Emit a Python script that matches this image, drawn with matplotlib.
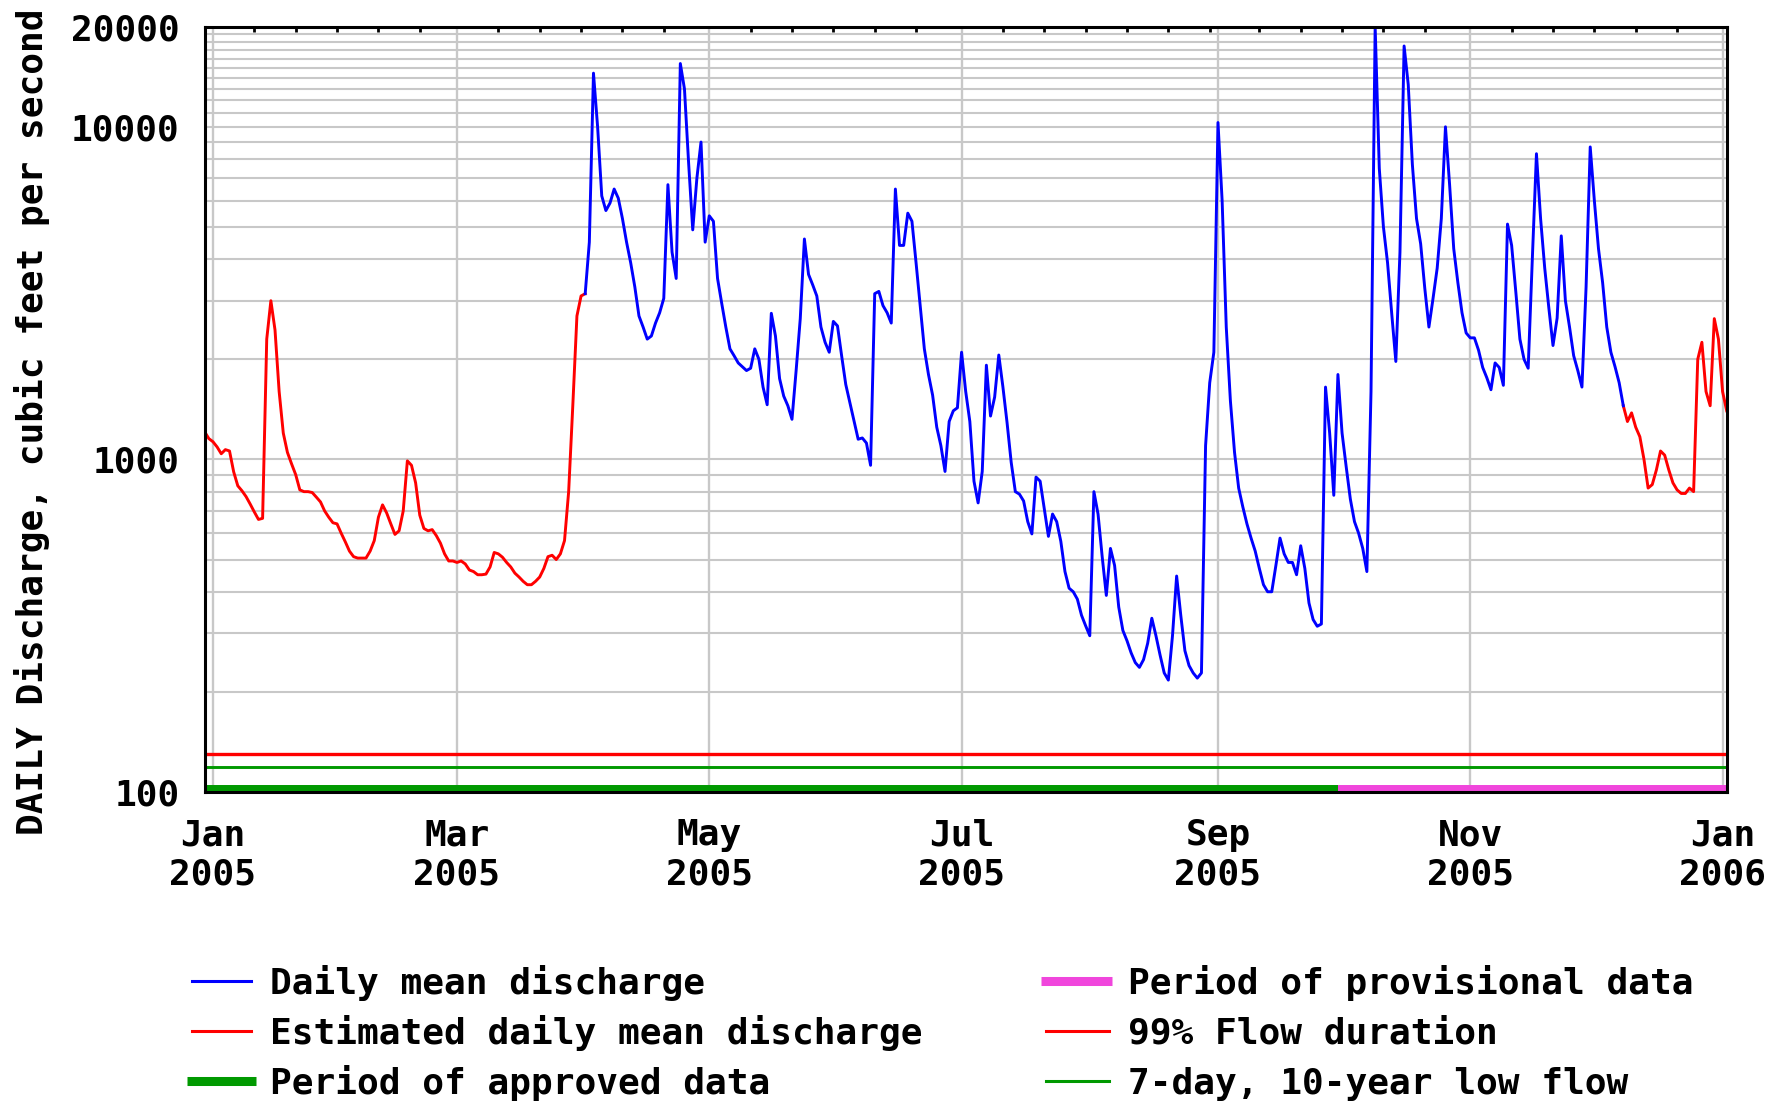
import numpy as np
import pandas as pd
import matplotlib
matplotlib.use("Agg")
import matplotlib.pyplot as plt
import matplotlib.dates as mdates
import matplotlib.transforms as mtransforms
from matplotlib.lines import Line2D
from matplotlib.ticker import FixedLocator, NullFormatter

# ---------------- data ----------------
start_date = "2004-12-30"
discharge_cfs = [
    1210, 1155, 1130, 1090, 1040, 1070, 1060, 918, 833, 805, 773, 734,
    695, 660, 665, 2300, 3000, 2450, 1600, 1200, 1050, 970,
    900, 810, 800, 800, 795, 770, 745, 700, 670, 645,
    640, 600, 565, 530, 510, 505, 505, 505, 530, 570,
    670, 730, 690, 640, 595, 610, 700, 990, 960, 850,
    680, 620, 610, 615, 590, 560, 520, 495, 495, 490,
    495, 485, 465, 460, 450, 450, 452, 475, 525, 520,
    508, 490, 475, 455, 443, 430, 420, 420, 430, 443,
    470, 510, 515, 500, 520, 570, 800, 1450, 2700, 3100,
    3150, 4500, 14500, 10000, 6200, 5600, 5900, 6500, 6100, 5300,
    4500, 3900, 3300, 2700, 2500, 2300, 2350, 2570, 2760, 3050,
    6700, 4200, 3500, 15500, 13000, 7800, 4900, 7000, 9000, 4500,
    5400, 5200, 3500, 2950, 2500, 2150, 2050, 1950, 1900, 1850,
    1880, 2150, 2000, 1650, 1460, 2750, 2350, 1750, 1550, 1450,
    1320, 1850, 2650, 4600, 3600, 3350, 3100, 2500, 2250, 2100,
    2600, 2520, 2050, 1680, 1480, 1300, 1150, 1160, 1120, 960,
    3150, 3200, 2900, 2760, 2570, 6500, 4400, 4400, 5500, 5200,
    3900, 2900, 2150, 1800, 1560, 1250, 1100, 920, 1300, 1400,
    1430, 2100, 1600, 1300, 860, 740, 920, 1920, 1350, 1540,
    2060, 1650, 1290, 980, 800, 786, 750, 650, 597, 885,
    860, 710, 587, 685, 650, 567, 460, 410, 400, 380,
    340, 316, 295, 800, 685, 510, 390, 540, 480, 360,
    306, 285, 262, 245, 237, 250, 280, 333, 295, 258,
    228, 217, 295, 446, 340, 266, 240, 228, 220, 228,
    1100, 1700, 2100, 10300, 6000, 2500, 1500, 1050, 820, 720,
    640, 580, 530, 470, 420, 400, 400, 480, 580, 520,
    490, 490, 450, 550, 470, 370, 330, 315, 320, 1650,
    1200, 780, 1800, 1200, 950, 760, 650, 600, 540, 460,
    1600, 20000, 7500, 5000, 3900, 2750, 1970, 4200, 17500, 13400,
    7700, 5300, 4450, 3270, 2500, 3050, 3760, 5300, 10000, 6700,
    4300, 3400, 2760, 2400, 2320, 2320, 2130, 1890, 1760, 1620,
    1950, 1890, 1670, 5100, 4400, 3200, 2300, 2000, 1880, 4000,
    8300, 5300, 3760, 2850, 2200, 2660, 4700, 3000, 2500, 2050,
    1850, 1650, 3300, 8700, 6000, 4300, 3400, 2500, 2100, 1900,
    1700, 1450, 1300, 1380, 1250, 1170, 1000, 820, 840, 930,
    1060, 1030, 930, 850, 810, 790, 790, 820, 800, 2000,
    2250, 1600, 1450, 2650, 2300, 1600, 1400,
]
estimated_until = "2005-04-01"     # estimated values up to this day
estimated_from = "2005-12-08"      # estimated values from this day on
approved_until = "2005-09-30"      # approved data period end
flow_99_percent = 130              # 99% flow duration, cfs
low_flow_7q10 = 119                # 7-day, 10-year low flow, cfs

y_tick_values = [100, 1000, 10000, 20000]
y_tick_labels = ["100", "1000", "10000", "20000"]
y_grid_values = (list(range(200, 1000, 100)) + list(range(2000, 10000, 1000))
                 + list(range(11000, 20000, 1000)))
x_tick_dates = ["2005-01-01", "2005-03-01", "2005-05-01", "2005-07-01",
                "2005-09-01", "2005-11-01", "2006-01-01"]
x_tick_labels = ["Jan\n2005", "Mar\n2005", "May\n2005", "Jul\n2005",
                 "Sep\n2005", "Nov\n2005", "Jan\n2006"]
y_label = "DAILY Discharge, cubic feet per second"
legend_labels = ["Daily mean discharge", "Estimated daily mean discharge",
                 "Period of approved data", "Period of provisional data",
                 "99% Flow duration", "7-day, 10-year low flow"]

# ---------------- styling ----------------
BLUE = "#0000ff"
RED = "#ff0000"
GREEN = "#009900"
MAGENTA = "#f046dc"
GRID = "#c8c8c8"
FONT = dict(family=["DejaVu Sans Mono"], weight="bold", size=26)

W, H = 1780, 1102
fig = plt.figure(figsize=(W / 100, H / 100), dpi=100)
fig.patch.set_facecolor("white")
ax_l, ax_r, ax_t, ax_b = 204.7, 1726.7, 26.7, 792.0
ax = fig.add_axes([ax_l / W, 1 - ax_b / H, (ax_r - ax_l) / W, (ax_b - ax_t) / H])

dates = pd.date_range(start_date, periods=len(discharge_cfs), freq="D")
q = np.asarray(discharge_cfs, dtype=float)
t_est_until = pd.Timestamp(estimated_until)
t_est_from = pd.Timestamp(estimated_from)

blue_mask = (dates >= t_est_until) & (dates <= t_est_from)
red_a = dates <= t_est_until
red_b = dates >= t_est_from

ax.set_yscale("log")
ax.set_ylim(100, 20000)
ax.set_xlim(dates[0], dates[-1])

# grid
ax.set_yticks(y_tick_values)
ax.set_yticklabels(y_tick_labels)
ax.yaxis.set_minor_locator(FixedLocator(y_grid_values))
ax.yaxis.set_minor_formatter(NullFormatter())
xt = [mdates.date2num(pd.Timestamp(d)) for d in x_tick_dates]
ax.set_xticks(xt)
ax.set_xticklabels(x_tick_labels)
minor_x = []
for a, b in zip(xt[:-1], xt[1:]):
    k = a + 10
    while k < b - 1:
        minor_x.append(k)
        k += 10
ax.xaxis.set_minor_locator(FixedLocator(minor_x))
ax.xaxis.set_minor_formatter(NullFormatter())

ax.grid(True, which="both", axis="y", color=GRID, linewidth=1.5, zorder=0)
ax.grid(True, which="major", axis="x", color=GRID, linewidth=1.7, zorder=0)
ax.set_axisbelow(True)

# reference lines
ax.axhline(flow_99_percent, color=RED, linewidth=2.4, zorder=2)
ax.axhline(low_flow_7q10, color=GREEN, linewidth=2.1, zorder=2)

# discharge lines
ax.plot(dates[red_a], q[red_a], color=RED, linewidth=2.1, zorder=3)
ax.plot(dates[red_b], q[red_b], color=RED, linewidth=2.1, zorder=3)
ax.plot(dates[blue_mask], q[blue_mask], color=BLUE, linewidth=2.1, zorder=3)

# approved / provisional bars along the bottom
trans = mtransforms.blended_transform_factory(ax.transData, ax.transAxes)
x0 = mdates.date2num(dates[0])
xa = mdates.date2num(pd.Timestamp(approved_until))
x1 = mdates.date2num(dates[-1])
ax.plot([x0, xa], [0.0055, 0.0055], transform=trans, color=GREEN,
        linewidth=4.3, solid_capstyle="butt", zorder=4)
ax.plot([xa, x1], [0.0055, 0.0055], transform=trans, color=MAGENTA,
        linewidth=4.3, solid_capstyle="butt", zorder=4)

for s in ax.spines.values():
    s.set_linewidth(2.2)
    s.set_color("black")
    s.set_zorder(5)

ax.tick_params(axis="y", which="both", length=0, pad=18)
ax.tick_params(axis="x", which="major", length=0, pad=19)
ax.tick_params(axis="x", which="minor", bottom=False, top=True,
               direction="in", length=3.5, width=2.0, color="black")
for lab in ax.get_yticklabels() + ax.get_xticklabels():
    lab.set_fontfamily(FONT["family"])
    lab.set_fontweight(FONT["weight"])
    lab.set_fontsize(FONT["size"])
for lab in ax.get_xticklabels():
    lab.set_linespacing(1.18)

fig.text(32.5 / W, 1 - 422 / H, y_label, rotation=90, ha="center",
         va="center", **FONT)

# legend (two columns of three rows, laid out in figure pixels)
legend_styles = [
    (BLUE, 2.2, "thin"), (RED, 2.2, "thin"), (GREEN, 6.5, "thick"),
    (MAGENTA, 6.5, "thick"), (RED, 2.2, "thin"), (GREEN, 2.2, "thin"),
]
col_x = [(191.5, 251.2, 186.7, 256.0, 270.0),
         (1045.5, 1108.5, 1041.0, 1112.0, 1127.5)]
row_y = [981.0, 1031.0, 1081.0]
for i, (label, (color, lw, kind)) in enumerate(zip(legend_labels, legend_styles)):
    c, r = divmod(i, 3)
    tx0, tx1, kx0, kx1, text_x = col_x[c]
    yy = 1 - row_y[r] / H
    if kind == "thin":
        xs, cap = (tx0 / W, tx1 / W), "projecting"
    else:
        xs, cap = (kx0 / W, kx1 / W), "butt"
    fig.add_artist(Line2D(xs, (yy, yy), transform=fig.transFigure,
                          color=color, linewidth=lw, solid_capstyle=cap))
    fig.text(text_x / W, 1 - (row_y[r] + 13) / H, label, ha="left",
             va="baseline", **FONT)

fig.savefig("out.png", dpi=100, facecolor="white")
